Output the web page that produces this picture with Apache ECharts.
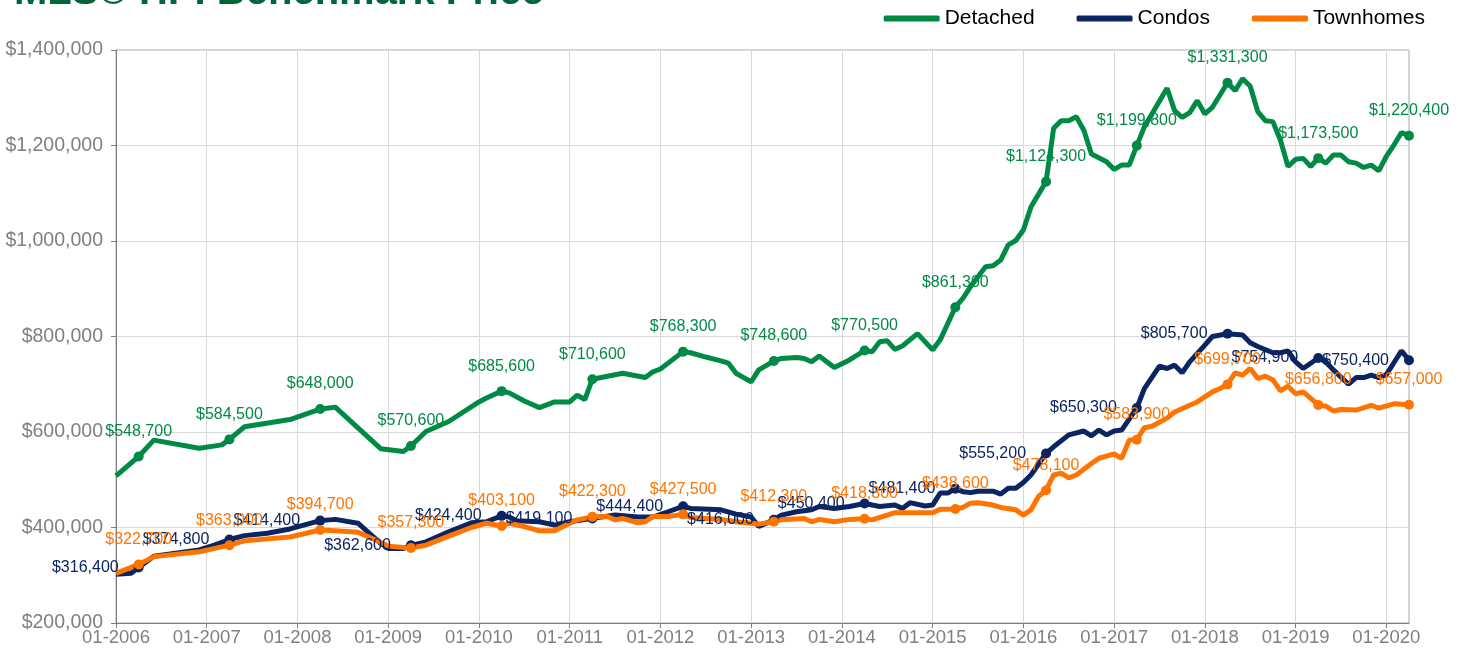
<!DOCTYPE html>
<html>
<head>
<meta charset="utf-8">
<script src="https://cdn.jsdelivr.net/npm/echarts@6/dist/echarts.min.js"></script>
<style>
  html, body { margin: 0; padding: 0; background: #fff; }
  #main { width: 1464px; height: 660px; }
</style>
</head>
<body>
<div id="main"></div>
<script>
// monthly categories 01-2006 .. 04-2020
var months = [];
for (var y = 2006; y <= 2020; y++) {
  for (var m = 1; m <= 12; m++) {
    if (y === 2020 && m > 4) break;
    months.push((m < 10 ? '0' : '') + m + '-' + y);
  }
}

var seriesNames = ['Detached', 'Condos', 'Townhomes'];
var colors = ['#008a46', '#0b2562', '#ff7400'];

// vertices: [month, price]
var detached = [
  ['01-2006', 508000], ['04-2006', 548700], ['06-2006', 583000], ['12-2006', 566000],
  ['03-2007', 573000], ['04-2007', 584500], ['06-2007', 611000], ['12-2007', 626000],
  ['04-2008', 648000], ['06-2008', 652000], ['12-2008', 565000], ['03-2009', 559000],
  ['04-2009', 570600], ['06-2009', 601000], ['09-2009', 622000], ['01-2010', 663000],
  ['02-2010', 671000], ['04-2010', 685600], ['05-2010', 682000], ['07-2010', 665000],
  ['09-2010', 651000], ['11-2010', 663000], ['01-2011', 663000], ['02-2011', 677000],
  ['03-2011', 668000], ['04-2011', 710600], ['08-2011', 723000], ['11-2011', 714000],
  ['12-2011', 726000], ['01-2012', 732000], ['04-2012', 768300], ['05-2012', 766000],
  ['07-2012', 757000], ['09-2012', 749000], ['10-2012', 744000], ['11-2012', 723000],
  ['01-2013', 705000], ['02-2013', 730000], ['04-2013', 748600], ['05-2013', 754000],
  ['07-2013', 756000], ['08-2013', 754000], ['09-2013', 747000], ['10-2013', 759000],
  ['12-2013', 735000], ['02-2014', 751000], ['04-2014', 770500], ['05-2014', 768000],
  ['06-2014', 789000], ['07-2014', 791000], ['08-2014', 773000], ['09-2014', 780000],
  ['11-2014', 806000], ['01-2015', 772000], ['02-2015', 793000], ['04-2015', 861300],
  ['05-2015', 880000], ['06-2015', 904000], ['08-2015', 946000], ['09-2015', 948000],
  ['10-2015', 960000], ['11-2015', 992000], ['12-2015', 1001000], ['01-2016', 1023000],
  ['02-2016', 1071000], ['04-2016', 1124300], ['05-2016', 1236000], ['06-2016', 1252000],
  ['07-2016', 1252000], ['08-2016', 1260000], ['09-2016', 1232000], ['10-2016', 1182000],
  ['12-2016', 1166000], ['01-2017', 1150000], ['02-2017', 1159000], ['03-2017', 1159000],
  ['04-2017', 1199800], ['05-2017', 1239000], ['08-2017', 1320000], ['09-2017', 1273000],
  ['10-2017', 1259000], ['11-2017', 1269000], ['12-2017', 1294000], ['01-2018', 1266000],
  ['02-2018', 1280000], ['04-2018', 1331300], ['05-2018', 1315000], ['06-2018', 1340000],
  ['07-2018', 1324000], ['08-2018', 1271000], ['09-2018', 1252000], ['10-2018', 1250000],
  ['11-2018', 1211000], ['12-2018', 1156000], ['01-2019', 1171000], ['02-2019', 1173000],
  ['03-2019', 1156000], ['04-2019', 1173500], ['05-2019', 1163000], ['06-2019', 1180000],
  ['07-2019', 1180000], ['08-2019', 1166000], ['09-2019', 1163000], ['10-2019', 1154000],
  ['11-2019', 1159000], ['12-2019', 1147000], ['01-2020', 1177000], ['02-2020', 1201000],
  ['03-2020', 1227000], ['04-2020', 1220400]
];

var condos = [
  ['01-2006', 302000], ['03-2006', 304000], ['04-2006', 316400], ['06-2006', 340000],
  ['12-2006', 353000], ['02-2007', 363000], ['04-2007', 374800], ['06-2007', 383000],
  ['09-2007', 388000], ['12-2007', 397000], ['04-2008', 414400], ['06-2008', 417000],
  ['09-2008', 409000], ['12-2008', 367000], ['01-2009', 356000], ['03-2009', 356000],
  ['04-2009', 362600], ['06-2009', 370000], ['09-2009', 391000], ['12-2009', 410000],
  ['02-2010', 412000], ['04-2010', 424400], ['05-2010', 422000], ['06-2010', 414000],
  ['09-2010', 412000], ['11-2010', 405000], ['01-2011', 412000], ['04-2011', 419100],
  ['07-2011', 426000], ['10-2011', 422000], ['12-2011', 422000], ['02-2012', 433000],
  ['04-2012', 444400], ['05-2012', 440000], ['09-2012', 437000], ['11-2012', 428000],
  ['01-2013', 422000], ['02-2013', 402000], ['04-2013', 416000], ['05-2013', 426000],
  ['07-2013', 433000], ['09-2013', 437000], ['10-2013', 444000], ['12-2013', 440000],
  ['02-2014', 444000], ['04-2014', 450400], ['05-2014', 447000], ['06-2014', 444000],
  ['08-2014', 447000], ['09-2014', 440000], ['10-2014', 452000], ['12-2014', 445000],
  ['01-2015', 447000], ['02-2015', 472000], ['03-2015', 472000], ['04-2015', 481400],
  ['05-2015', 475000], ['06-2015', 473000], ['07-2015', 476000], ['09-2015', 476000],
  ['10-2015', 470000], ['11-2015', 482000], ['12-2015', 482000], ['01-2016', 494000],
  ['02-2016', 510000], ['04-2016', 555200], ['05-2016', 569000], ['07-2016', 594000],
  ['09-2016', 602000], ['10-2016', 592000], ['11-2016', 604000], ['12-2016', 594000],
  ['01-2017', 602000], ['02-2017', 604000], ['04-2017', 650300], ['05-2017', 691000],
  ['07-2017', 738000], ['08-2017', 733000], ['09-2017', 740000], ['10-2017', 724000],
  ['11-2017', 747000], ['01-2018', 782000], ['02-2018', 800000], ['04-2018', 805700],
  ['06-2018', 803000], ['07-2018', 787000], ['08-2018', 779000], ['10-2018', 766000],
  ['11-2018', 766000], ['12-2018', 770000], ['01-2019', 747000], ['02-2019', 733000],
  ['03-2019', 744000], ['04-2019', 754900], ['05-2019', 747000], ['06-2019', 730000],
  ['08-2019', 700000], ['09-2019', 714000], ['10-2019', 714000], ['11-2019', 719000],
  ['12-2019', 714000], ['01-2020', 720000], ['02-2020', 745000], ['03-2020', 770000],
  ['04-2020', 750400]
];

var townhomes = [
  ['01-2006', 304000], ['04-2006', 322700], ['06-2006', 339000], ['12-2006', 349000],
  ['04-2007', 363000], ['06-2007', 372000], ['12-2007', 380000], ['04-2008', 394700],
  ['06-2008', 393000], ['09-2008', 390000], ['12-2008', 369000], ['01-2009', 361000],
  ['03-2009', 358000], ['04-2009', 357300], ['06-2009', 363000], ['09-2009', 382000],
  ['12-2009', 400000], ['02-2010', 409000], ['04-2010', 403100], ['05-2010', 409000],
  ['07-2010', 402000], ['09-2010', 393000], ['11-2010', 393000], ['01-2011', 409000],
  ['02-2011', 416000], ['04-2011', 422300], ['06-2011', 423000], ['07-2011', 416000],
  ['08-2011', 419000], ['10-2011', 410000], ['11-2011', 412000], ['12-2011', 423000],
  ['02-2012', 423000], ['04-2012', 427500], ['05-2012', 421000], ['09-2012', 417000],
  ['11-2012', 412000], ['01-2013', 409000], ['02-2013', 407000], ['04-2013', 412300],
  ['05-2013', 416000], ['08-2013', 419000], ['09-2013', 412000], ['10-2013', 417000],
  ['12-2013', 412000], ['02-2014', 417000], ['04-2014', 418300], ['05-2014', 416000],
  ['07-2014', 426000], ['08-2014', 431000], ['10-2014', 431000], ['01-2015', 431000],
  ['02-2015', 438000], ['04-2015', 438600], ['05-2015', 442000], ['06-2015', 451000],
  ['07-2015', 452000], ['09-2015', 447000], ['10-2015', 442000], ['12-2015', 437000],
  ['01-2016', 426000], ['02-2016', 437000], ['03-2016', 465000], ['04-2016', 478100],
  ['05-2016', 510000], ['06-2016', 514000], ['07-2016', 504000], ['08-2016', 510000],
  ['10-2016', 534000], ['11-2016', 545000], ['01-2017', 554000], ['02-2017', 545000],
  ['03-2017', 583000], ['04-2017', 583900], ['05-2017', 609000], ['06-2017', 612000],
  ['08-2017', 629000], ['09-2017', 642000], ['11-2017', 656000], ['12-2017', 663000],
  ['02-2018', 684000], ['03-2018', 691000], ['04-2018', 699700], ['05-2018', 724000],
  ['06-2018', 719000], ['07-2018', 733000], ['08-2018', 712000], ['09-2018', 717000],
  ['10-2018', 709000], ['11-2018', 686000], ['12-2018', 696000], ['01-2019', 680000],
  ['02-2019', 684000], ['04-2019', 656800], ['05-2019', 654000], ['06-2019', 644000],
  ['07-2019', 647000], ['09-2019', 646000], ['11-2019', 656000], ['12-2019', 650000],
  ['02-2020', 659000], ['04-2020', 657000]
];

var labelPos = ['top', 'left', 'top'];
var labelGap = [12, 15, 12];

function money(v) {
  return '$' + Math.round(v).toLocaleString('en-US');
}
function isLabelled(m) {
  return m.indexOf('04-') === 0;
}
function yearStart(i) {
  return i % 12 === 0;
}

var myChart = echarts.init(document.getElementById('main'));

var option = {
  animation: false,
  backgroundColor: '#fff',
  textStyle: { fontFamily: 'Liberation Sans, Arial, sans-serif' },
  title: {
    text: 'MLS® HPI Benchmark Price',
    left: 9,
    top: -32,
    textStyle: { fontSize: 40, fontWeight: 'bold', color: '#00663a' }
  },
  legend: {
    data: seriesNames,
    right: 34,
    top: 3,
    icon: 'roundRect',
    itemWidth: 56,
    itemHeight: 6,
    itemGap: 42,
    textStyle: { fontSize: 21, color: '#000' }
  },
  grid: {
    left: 116, right: 55, top: 50, bottom: 37,
    show: true, borderColor: '#a6a6a6', borderWidth: 1
  },
  xAxis: {
    type: 'category',
    boundaryGap: false,
    data: months,
    axisLine: { lineStyle: { color: '#808080' } },
    axisTick: { interval: function (i) { return yearStart(i); }, length: 5, lineStyle: { color: '#808080' } },
    axisLabel: {
      interval: function (i) { return yearStart(i); },
      color: '#808080', fontSize: 18.5, margin: 5
    },
    splitLine: {
      show: true,
      interval: function (i) { return yearStart(i); },
      lineStyle: { color: '#d9d9d9' }
    }
  },
  yAxis: {
    type: 'value',
    min: 200000,
    max: 1400000,
    interval: 200000,
    axisLine: { show: true, lineStyle: { color: '#808080' } },
    axisTick: { show: true, length: 5, lineStyle: { color: '#808080' } },
    axisLabel: { formatter: money, color: '#808080', fontSize: 19.5, margin: 13 },
    splitLine: { lineStyle: { color: '#d9d9d9' } }
  },
  series: [detached, condos, townhomes].map(function (d, k) {
    return {
      name: seriesNames[k],
      type: 'line',
      data: d,
      color: colors[k],
      lineStyle: { width: 5, color: colors[k] },
      symbol: 'circle',
      showSymbol: true,
      showAllSymbol: true,
      symbolSize: function (v) { return isLabelled(v[0]) ? 10 : 0; },
      itemStyle: { color: colors[k] },
      label: {
        show: true,
        position: labelPos[k],
        distance: labelGap[k],
        fontSize: 16,
        color: colors[k],
        formatter: function (p) { return isLabelled(p.value[0]) ? money(p.value[1]) : ''; }
      },
      labelLayout: { hideOverlap: false },
      emphasis: { disabled: true }
    };
  })
};

myChart.setOption(option);
</script>
</body>
</html>
